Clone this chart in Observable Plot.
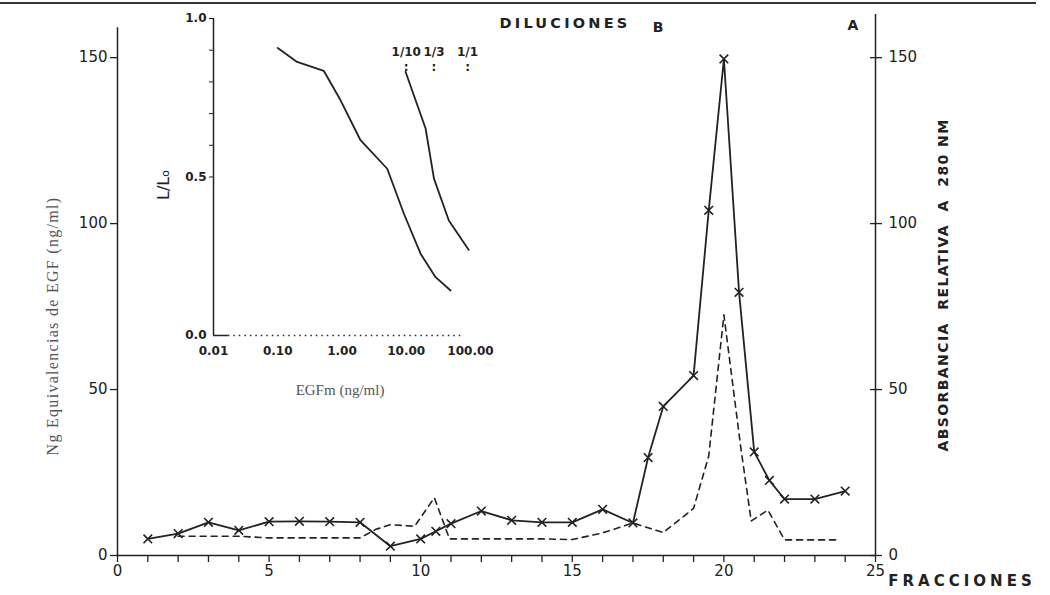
<!DOCTYPE html>
<html><head><meta charset="utf-8">
<script src="https://cdn.jsdelivr.net/npm/d3@7"></script>
<script src="https://cdn.jsdelivr.net/npm/@observablehq/plot@0.6"></script>
<style>
body{margin:0;background:#fff;}
#wrap{position:relative;width:1050px;height:595px;overflow:hidden;background:#fff;font-family:"DejaVu Sans",sans-serif;color:#222;}
#wrap svg{position:absolute;}
.abs{position:absolute;white-space:pre;line-height:1;}
.rot{transform:translate(-50%,-50%) rotate(-90deg);}
</style></head><body><div id="wrap"></div>
<script>
// Main chromatogram: EGF equivalents (solid, x markers) per fraction
const fractionsSolid = [1,2,3,4,5,6,7,8,9,10,10.5,11,12,13,14,15,16,17,17.5,18,19,19.5,20,20.5,21,21.5,22,23,24];
const egfValues      = [5,6.6,10,7.6,10.2,10.3,10.2,10,2.8,5,7.3,9.6,13.4,10.6,10,10,13.9,9.8,29.5,44.9,54.2,104,149.6,79.3,31.2,22.6,17,17,19.4];
// Relative absorbance at 280 nm (dashed)
const fractionsDashed = [2,4,5,8,8.5,9,9.8,10.45,10.95,12,13,14,15,16,17,18,19,19.5,20,20.55,20.9,21.45,22,23,23.8];
const absorbance      = [5.8,5.8,5.3,5.3,7.8,9.3,8.8,17.4,5,5,5,5,4.8,6.8,9.8,6.9,14.2,30,72.5,33,10.4,13.7,4.7,4.7,4.7];
const mainXTicks = [0,1,2,3,4,5,6,7,8,9,10,11,12,13,14,15,16,17,18,19,20,21,22,23,24,25];
const mainYTicks = [0,50,100,150];

// Inset: standard curve and sample dilutions
const egfStd     = [0.1,0.2,0.52,0.95,1.94,5.06,9.2,16.7,28.6,49];
const ratioStd   = [0.907,0.863,0.835,0.742,0.616,0.526,0.384,0.258,0.184,0.142];
const egfSample   = [9.75,20,27,46,94];
const ratioSample = [0.832,0.653,0.495,0.363,0.27];
const dilutionLabels = ["1/10","1/3","1/1"];
const dilutionX      = [10,27,90];
const insetXTicks = [0.01,0.1,1,10,100];
const insetYLabels = [0,0.5,1];
const insetYMinor = [0.5,0.6,0.7,0.8,0.9,1.0];

const ink = "#222";
const solid = fractionsSolid.map((x,i)=>({x, y: egfValues[i]}));
const dashed = fractionsDashed.map((x,i)=>({x, y: absorbance[i]}));
const std = egfStd.map((x,i)=>({x, y: ratioStd[i]}));
const sample = egfSample.map((x,i)=>({x, y: ratioSample[i]}));

const main = Plot.plot({
  width:1050, height:595, marginLeft:117, marginRight:175, marginTop:14, marginBottom:40,
  x:{domain:[0,25]}, y:{domain:[0,163]},
  style:{background:"transparent", fontFamily:"DejaVu Sans, sans-serif", fontSize:"15px", color:ink, overflow:"visible"},
  marks:[
    Plot.ruleY([0], {stroke:ink, strokeWidth:1.5}),
    Plot.ruleX([0], {y1:0, y2:159, stroke:ink, strokeWidth:1.5}),
    Plot.ruleX([25], {y1:0, y2:163, stroke:ink, strokeWidth:1.5}),
    Plot.axisX({ticks:mainXTicks, tickSize:7, tickPadding:3, tickFormat:d => d % 5 === 0 ? String(d) : "", label:null, strokeWidth:1.3}),
    Plot.axisY({anchor:"left", ticks:mainYTicks, tickSize:7, tickPadding:3, label:null, strokeWidth:1.3}),
    Plot.axisY({anchor:"right", ticks:mainYTicks, tickSize:6, tickPadding:7, label:null, strokeWidth:1.3}),
    Plot.axisY({anchor:"right", ticks:mainYTicks, tickSize:6, dx:-6, tickFormat:()=>"", label:null, strokeWidth:1.3}),
    Plot.line(dashed, {x:"x", y:"y", stroke:ink, strokeWidth:1.6, strokeDasharray:"6,5"}),
    Plot.line(solid, {x:"x", y:"y", stroke:ink, strokeWidth:1.8}),
    Plot.dot(solid, {x:"x", y:"y", symbol:"times", r:4, stroke:ink, strokeWidth:1.6})
  ]
});

const inset = Plot.plot({
  width:360, height:400, marginLeft:63, marginRight:40, marginTop:18, marginBottom:65,
  x:{type:"log", domain:[0.01,100]}, y:{domain:[0,1]},
  style:{background:"transparent", fontFamily:"DejaVu Sans, sans-serif", fontSize:"12px", color:ink, overflow:"visible"},
  marks:[
    Plot.ruleX([0.01], {y1:0, y2:1, stroke:ink, strokeWidth:1.5}),
    Plot.ruleY([0], {x1:0.01, x2:0.017, stroke:ink, strokeWidth:1.5}),
    Plot.ruleY([0], {x1:0.017, x2:80, stroke:ink, strokeWidth:1.5, strokeDasharray:"1.5,4"}),
    Plot.axisY({ticks:insetYMinor, tickSize:4, tickFormat:()=>"", label:null}),
    Plot.axisY({ticks:insetYLabels, tickSize:0, tickPadding:7, tickFormat:d3.format(".1f"), label:null, fontWeight:"bold"}),
    Plot.axisX({ticks:insetXTicks, tickSize:0, tickPadding:11, tickFormat:d3.format(".2f"), label:null, fontWeight:"bold"}),
    Plot.line(std, {x:"x", y:"y", stroke:ink, strokeWidth:1.8}),
    Plot.line(sample, {x:"x", y:"y", stroke:ink, strokeWidth:1.8}),
    Plot.text(dilutionLabels, {x:(d,i)=>dilutionX[i], text:d=>d, frameAnchor:"top", dy:29, fontWeight:"bold", fontSize:12}),
    Plot.text(dilutionLabels, {x:(d,i)=>dilutionX[i], text:()=>":", frameAnchor:"top", dy:44, fontWeight:"bold", fontSize:12})
  ]
});

const wrap = document.getElementById("wrap");
main.style.left = "0px"; main.style.top = "0px";
inset.style.left = "150px"; inset.style.top = "0px";
wrap.appendChild(main);
wrap.appendChild(inset);

function label(html, css, cls){
  const d = document.createElement("div");
  d.className = "abs " + (cls||"");
  d.innerHTML = html;
  Object.assign(d.style, css);
  wrap.appendChild(d);
}
// top rule of the figure
label("", {left:"0px", top:"2px", width:"1036px", height:"2px", background:"#333"});
label("DILUCIONES", {left:"565px", top:"23px", transform:"translate(-50%,-50%)", fontSize:"14.5px", letterSpacing:"3.2px", fontWeight:"bold"});
label("B", {left:"658px", top:"27px", transform:"translate(-50%,-50%)", fontSize:"14px", fontWeight:"bold"});
label("A", {left:"853px", top:"25px", transform:"translate(-50%,-50%)", fontSize:"14px", fontWeight:"bold"});
label("FRACCIONES", {left:"962px", top:"581px", transform:"translate(-50%,-50%)", fontSize:"15px", letterSpacing:"4px", fontWeight:"bold"});
label("ABSORBANCIA  RELATIVA  A  280 NM", {left:"943px", top:"285px", fontSize:"14px", letterSpacing:"1.4px", fontWeight:"bold"}, "rot");
label("Ng Equivalencias de EGF (ng/ml)", {left:"53px", top:"326px", fontSize:"16px", letterSpacing:"1.3px", fontFamily:"'Liberation Serif', serif", color:"#555"}, "rot");
label("L/L<span style='font-size:11px'>o</span>", {left:"164px", top:"185px", fontSize:"16px"}, "rot");
label("EGFm (ng/ml)", {left:"340px", top:"390px", transform:"translate(-50%,-50%)", fontSize:"15px", fontFamily:"'Liberation Serif', serif", color:"#555"});
</script></body></html>
